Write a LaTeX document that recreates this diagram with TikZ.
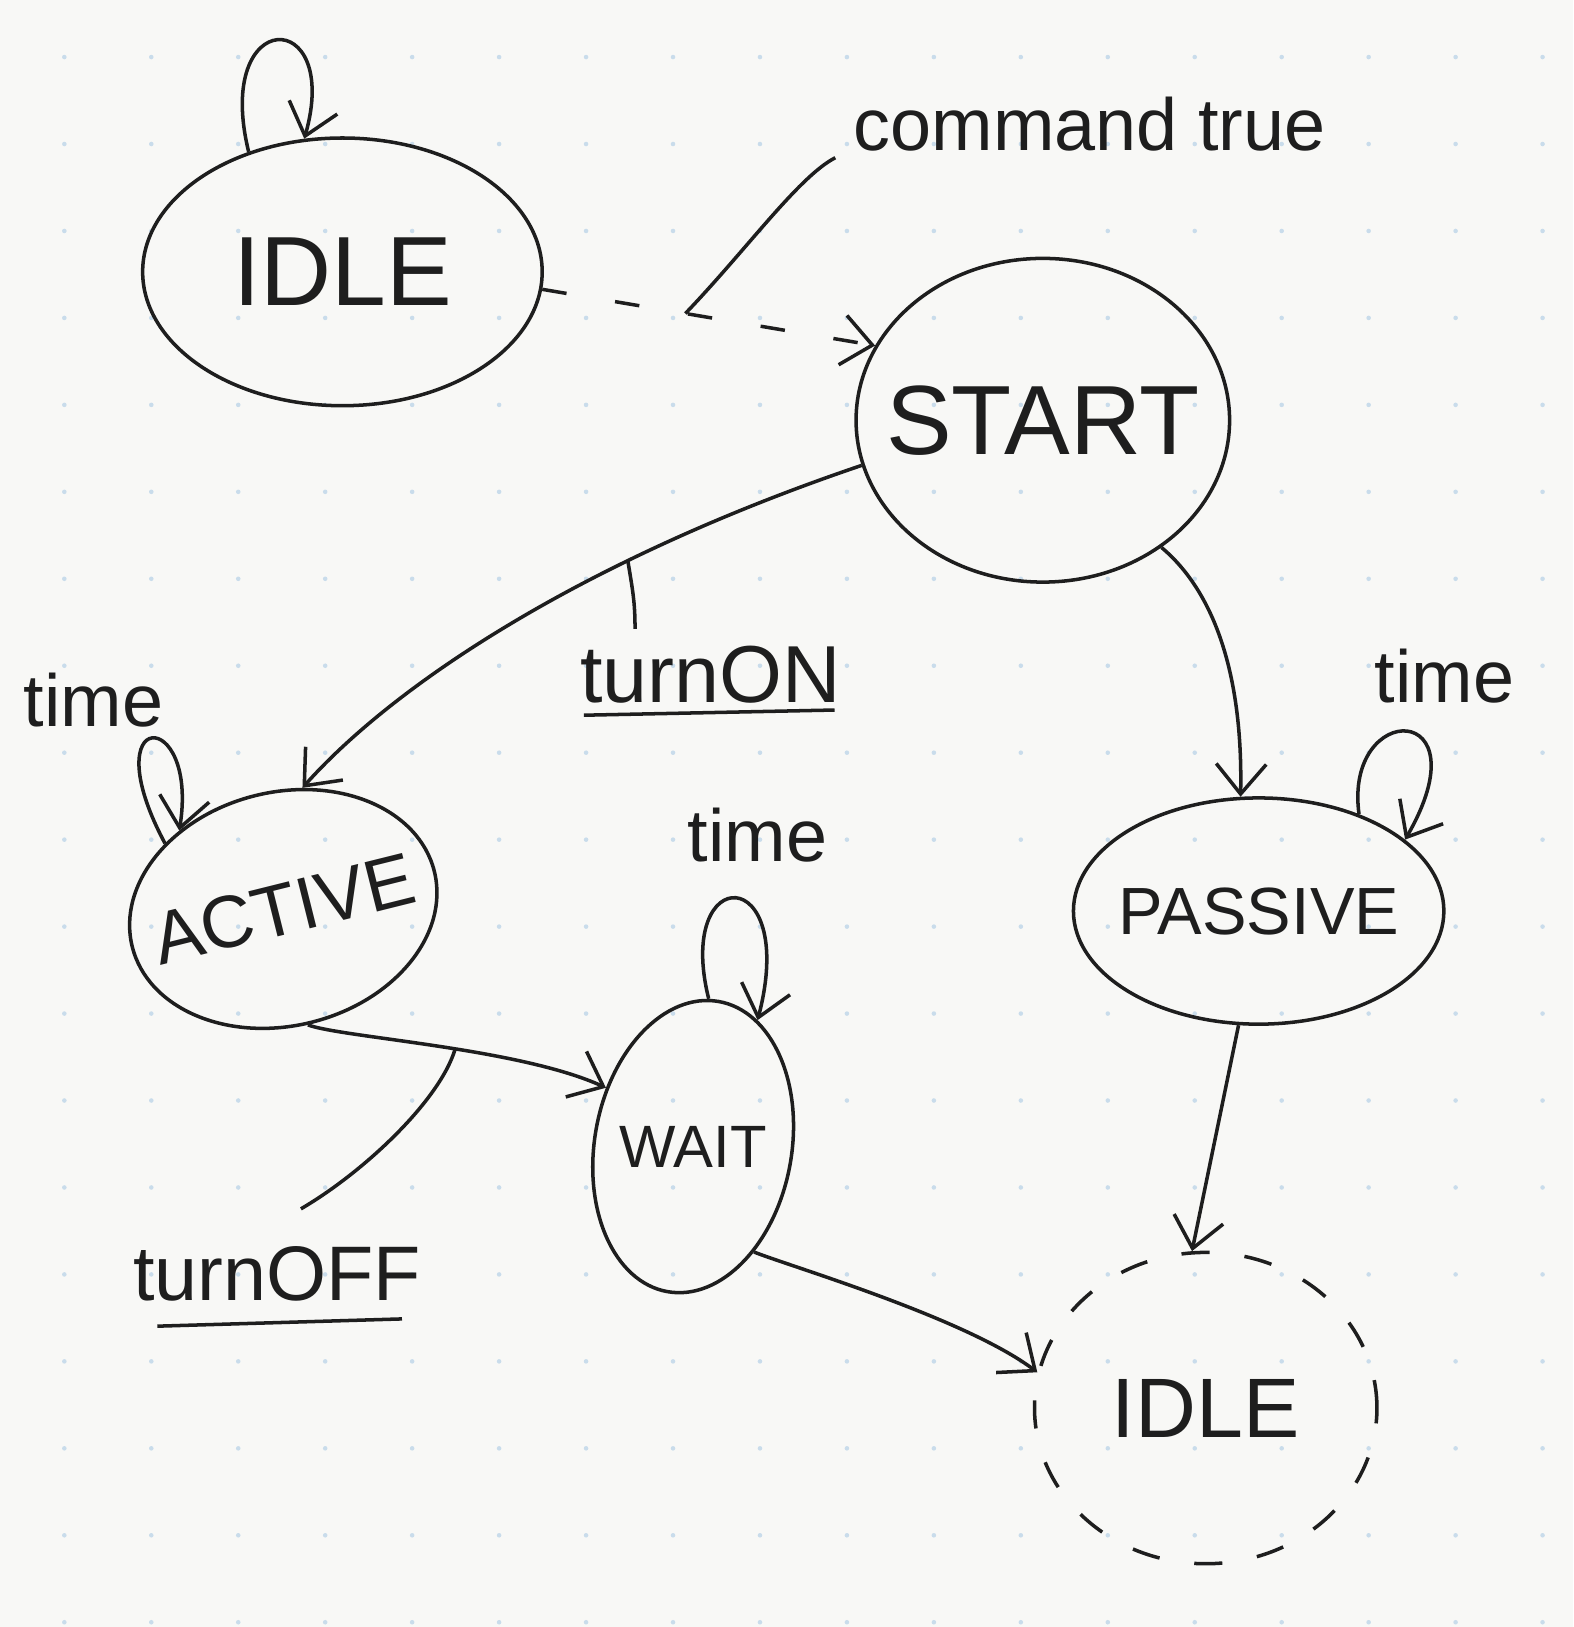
\documentclass[tikz,border=0pt]{standalone}
\usepackage{fontspec}
\setmainfont{Liberation Sans}
\usetikzlibrary{shapes.geometric,arrows.meta,calc}
\definecolor{paper}{HTML}{F8F8F6}
\definecolor{griddot}{HTML}{C9DCEB}
\definecolor{ink}{HTML}{1E1E1E}
\newcommand{\zw}[1]{\makebox[0pt]{#1}}
\begin{document}
\begin{tikzpicture}[x=0.010376cm,y=-0.010376cm,color=ink,line width=1pt,
  state/.style={draw=ink,line width=1pt,ellipse,inner sep=0pt,text=ink},
  arr/.style={draw=ink,line width=1pt,-{Straight Barb[length=3mm,width=5mm,line width=1pt]}},
  lbl/.style={inner sep=0pt,text=ink},
  dashedge/.style={dash pattern=on 7pt off 14pt},
  dashstate/.style={dash pattern=on 8pt off 10pt}]
\fill[paper] (0,0) rectangle (1516,1568);
\useasboundingbox (0,0) rectangle (1516,1568);
\foreach \i in {0,...,17} \foreach \j in {0,...,18} \fill[griddot] (62+\i*83.8,55+\j*83.8) circle (2.2);

% states
\node[state,minimum width=3.995cm,minimum height=2.677cm,font=\fontsize{28}{30}\selectfont] (idle) at (330,262) {\zw{IDLE}};
\node[state,minimum width=3.735cm,minimum height=3.237cm,font=\fontsize{28}{30}\selectfont] (start) at (1005,405) {\zw{START}};
\node[state,rotate=14,minimum width=3.113cm,minimum height=2.335cm,font=\fontsize{21}{23}\selectfont] (active) at (273,876) {\zw{ACTIVE}};
\node[state,rotate=-10,minimum width=1.971cm,minimum height=2.946cm,font=\fontsize{17}{19}\selectfont] (wait) at (668,1105) {\zw{\rotatebox{10}{WAIT}}};
\node[state,minimum width=3.704cm,minimum height=2.262cm,font=\fontsize{19}{21}\selectfont] (passive) at (1213,878) {\zw{PASSIVE}};
\node[state,dashstate,minimum width=3.424cm,minimum height=3.113cm,font=\fontsize{24}{26}\selectfont] (idleb) at (1162,1357) {\zw{IDLE}};

% labels
\node[lbl,font=\fontsize{21}{23}\selectfont] (cmd) at (1050,120) {command true};
\node[lbl,font=\fontsize{23}{25}\selectfont] (turnon) at (685,650) {turnON};
\node[lbl,font=\fontsize{22}{24}\selectfont] (turnoff) at (267,1228) {turnOFF};
\node[lbl,font=\fontsize{21}{23}\selectfont] (timea) at (90,675) {time};
\node[lbl,font=\fontsize{21}{23}\selectfont] (timep) at (1392,652) {time};
\node[lbl,font=\fontsize{21}{23}\selectfont] (timew) at (730,805) {time};

\coordinate (cmdend) at (805,152);
\coordinate (onend) at (612,606);
\coordinate (offend) at (290,1165);

% transitions
\draw[arr,dashedge] (idle.-5) -- (start.156) coordinate[pos=0.43] (cmdpt);
\draw (cmdpt) .. controls (720,240) and (770,170) .. (cmdend);

\draw[arr] (idle.128) .. controls (205,5) and (330,5) .. (idle.106);

\draw[arr] (start.194) .. controls (560,540) and (380,660) .. (active.67) coordinate[pos=0.31] (onpt);
\draw (onpt) .. controls +(5,30) and +(0,-25) .. (onend);
\draw ($(turnon.south west)+(5,10)$) -- ($(turnon.south east)+(-8,5)$);

\draw[arr] (start.-47) .. controls (1170,570) and (1198,650) .. (passive.99);
\draw[arr] (passive.44) .. controls +(-15,-110) and +(78,-135) .. (passive.26);
\draw[arr] (passive.-100) -- (idleb.95);

\draw[arr] (active.137) .. controls (88,680) and (192,680) .. (active.129);
\draw[arr] (active.-92) .. controls (330,1000) and (500,1010) .. (wait.156) coordinate[pos=0.55] (offpt);
\draw (offpt) .. controls +(-15,50) and +(60,-35) .. (offend);
\draw ($(turnoff.south west)+(25,22)$) -- ($(turnoff.south east)+(-20,15)$);

\draw[arr] (wait.94) .. controls (650,830) and (770,830) .. (wait.73);
\draw[arr] (wait.-50) .. controls (760,1220) and (930,1270) .. (idleb.168);
\end{tikzpicture}
\end{document}
